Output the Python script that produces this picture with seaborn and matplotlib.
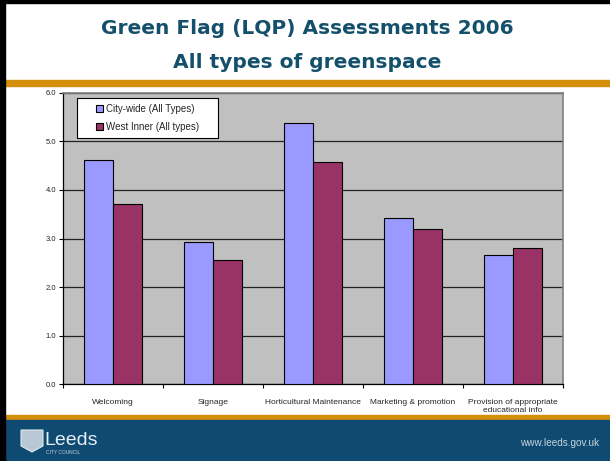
import matplotlib
matplotlib.use("Agg")
import matplotlib.pyplot as plt
import seaborn as sns
import pandas as pd
from matplotlib.patches import Rectangle, Polygon
from matplotlib.ticker import FixedLocator

categories = ["Welcoming", "Signage", "Horticultural Maintenance",
              "Marketing & promotion", "Provision of appropriate\neducational info"]
series_names = ["City-wide (All Types)", "West Inner (All types)"]
city_wide = [4.62, 2.93, 5.37, 3.43, 2.67]
west_inner = [3.72, 2.56, 4.58, 3.20, 2.80]
colors = ["#9999FF", "#993366"]
yticks = [0.0, 1.0, 2.0, 3.0, 4.0, 5.0, 6.0]

df = pd.DataFrame({
    "category": categories * 2,
    "series": [series_names[0]] * 5 + [series_names[1]] * 5,
    "value": city_wide + west_inner,
})

sns.set_style("white")
plt.rcParams["font.family"] = ["Liberation Sans", "DejaVu Sans"]

fig = plt.figure(figsize=(6.10, 4.61), dpi=100)
W, H = 610, 461

def fx(x): return x / W
def fy(y): return 1 - y / H

# background decorations
bg = fig.add_axes([0, 0, 1, 1])
bg.set_xlim(0, W); bg.set_ylim(H, 0); bg.axis("off")
bg.add_patch(Rectangle((0, 0), W, H, color="white"))
bg.add_patch(Rectangle((0, 80), W, 6, color="#D4900A"))
bg.add_patch(Rectangle((0, 414.5), W, 5.5, color="#D4900A"))
bg.add_patch(Rectangle((0, 420), W, 41, color="#0E4A72"))
bg.add_patch(Rectangle((0, 0), W, 3, color="black"))
bg.add_patch(Rectangle((0, 0), 5, H, color="black"))
bg.text(307, 28, "Green Flag (LQP) Assessments 2006", ha="center", va="center",
        fontsize=14.5, fontweight="bold", color="#14506C", family="DejaVu Sans")
bg.text(307, 63, "All types of greenspace", ha="center", va="center",
        fontsize=14.5, fontweight="bold", color="#14506C", family="DejaVu Sans")
# crest (simple shape)
bg.add_patch(Polygon([(21, 430), (43, 430), (43, 446), (32, 452), (21, 446)],
                     closed=True, facecolor="#B8C8D4", edgecolor="#E0E8EE", linewidth=0.8))
bg.text(44, 440, "Leeds", ha="left", va="center", fontsize=14, color="#E8EEF2")
bg.text(46, 452, "CITY COUNCIL", ha="left", va="center", fontsize=3.5, color="#C8D4DC")
bg.text(599, 443, "www.leeds.gov.uk", ha="right", va="center", fontsize=7.2, color="#C8D4DC")

L, R, T, B = 63, 562.5, 92.7, 384.3
ax = fig.add_axes([fx(L), fy(B), fx(R) - fx(L), fy(T) - fy(B)])
sns.barplot(data=df, x="category", y="value", hue="series", palette=colors,
            width=0.58, gap=0, edgecolor="black", linewidth=0.8, ax=ax,
            saturation=1, zorder=3)
ax.set_facecolor("#C0C0C0")
ax.set_ylim(0, 6)
ax.set_xlim(-0.5, 4.5)
ax.yaxis.set_major_locator(FixedLocator(yticks))
ax.set_yticklabels([f"{t:.1f}" for t in yticks], fontsize=5.5)
ax.yaxis.grid(True, color="#222222", linewidth=0.9, zorder=0)
ax.set_axisbelow(True)
ax.tick_params(axis="y", left=True, length=3, width=0.8, color="black", pad=2)
ax.tick_params(axis="x", which="major", bottom=False, labelsize=6, pad=7)
ax.xaxis.set_minor_locator(FixedLocator([-0.5, 0.5, 1.5, 2.5, 3.5, 4.5]))
ax.tick_params(axis="x", which="minor", bottom=True, length=3, width=0.8, color="black")
ax.set_xlabel(""); ax.set_ylabel("")
for s in ["left", "bottom"]:
    ax.spines[s].set_color("black"); ax.spines[s].set_linewidth(0.9)
for s in ["top", "right"]:
    ax.spines[s].set_color("#808080"); ax.spines[s].set_linewidth(1.2)

# legend box (reference box is wider than its content)
bx0, by0, bx1, by1 = 76.7, 97.7, 218, 138.3
ax.add_patch(Rectangle(((bx0 - L) / (R - L), 1 - (by1 - T) / (B - T)),
                       (bx1 - bx0) / (R - L), (by1 - by0) / (B - T),
                       transform=ax.transAxes, facecolor="white", edgecolor="black",
                       linewidth=0.8, zorder=4, clip_on=False))
leg = ax.legend(loc="center",
                bbox_to_anchor=(((bx0 + bx1) / 2 - L) / (R - L), 1 - ((by0 + by1) / 2 - T) / (B - T)),
                fontsize=7, frameon=False,
                handlelength=0.75, handleheight=0.75, handletextpad=0.3,
                borderpad=0.2, labelspacing=0.85, borderaxespad=0)
leg.set_zorder(5)

fig.savefig("out.png", dpi=100)
